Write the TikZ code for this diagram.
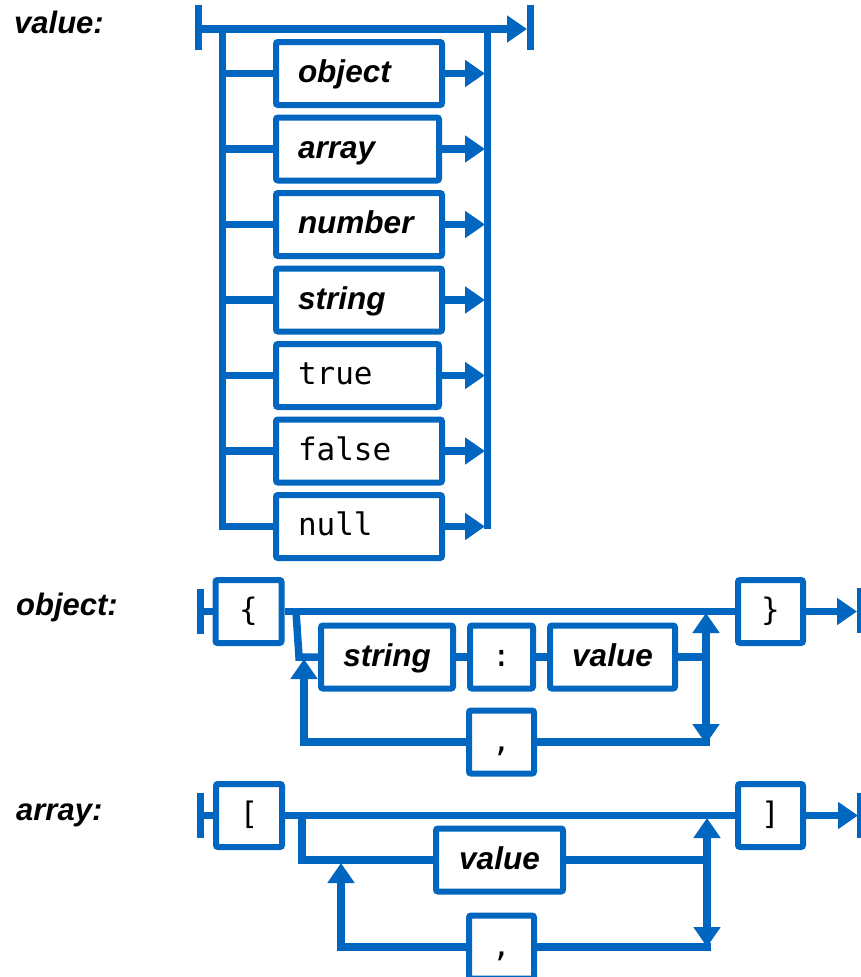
\documentclass[tikz,border=0pt]{standalone}
\usepackage{fontspec}
\setmainfont{Liberation Sans}
\newfontfamily\monof{DejaVu Sans Mono}
\usetikzlibrary{arrows.meta}
\definecolor{jblue}{HTML}{0066C0}
\begin{document}
\begin{tikzpicture}[x=1pt,y=-1pt,
  conn/.style={draw=jblue, line width=7.5pt, line join=miter},
  bar/.style={draw=jblue, line width=7pt},
  arr/.style={conn, -{Triangle[length=20pt,width=26pt]}},
  box/.style={draw=jblue, line width=6pt, rounded corners=2pt, fill=white,
    minimum height=63pt, inner sep=0pt, text height=24pt, text depth=6pt},
  vbox/.style={box, inner xsep=22pt, align=left},
  kw/.style={font=\fontsize{31.5}{31.5}\selectfont\bfseries\itshape},
  lit/.style={font=\fontsize{31}{31}\selectfont\monof},
  lbl/.style={font=\fontsize{31}{31}\selectfont\bfseries\itshape, anchor=base west, inner sep=0pt},
]
\useasboundingbox (0,0) rectangle (861,977);

% ---------------- value ----------------
\node[lbl] (lvalue) at (14,33) {value:};
\coordinate (vs) at (198.5,29);
\coordinate (ve) at (527,29);
\coordinate (vl) at (222.5,29);
\coordinate (vr) at (487.5,29);
\coordinate (vrb) at (487.5,529);
\coordinate (vtip) at (485,29);
\draw[bar] (198.5,5) -- (198.5,50);
\draw[bar] (530,5) -- (530,50);
\draw[arr] (vs) -- (ve);

\node[vbox, kw,  text width=122pt] (vobj) at (359,73.5)   {object};
\node[vbox, kw,  text width=119pt] (varr) at (357.5,149)  {array};
\node[vbox, kw,  text width=122pt] (vnum) at (359,224.5)  {number};
\node[vbox, kw,  text width=122pt] (vstr) at (359,300)    {string};
\node[vbox, lit, text width=119pt] (vtru) at (357.5,375.5){true};
\node[vbox, lit, text width=122pt] (vfal) at (359,451)    {false};
\node[vbox, lit, text width=122pt] (vnul) at (359,526.5)  {null};

\draw[conn] (vl) |- (vnul.west);
\draw[conn] (vr) -- (vrb);
\foreach \n in {vobj,varr,vnum,vstr,vtru,vfal}{
  \draw[conn] (\n.west -| vl) -- (\n.west);
}
\foreach \n in {vobj,varr,vnum,vstr,vtru,vfal,vnul}{
  \draw[arr] (\n.east) -- (\n.east -| vtip);
}

% ---------------- object ----------------
\node[lbl] (lobject) at (16,615) {object:};
\draw[bar] (200,589) -- (200,634);
\node[box, lit, minimum width=66pt] (olb) at (248.5,611.5) {\{};
\node[box, lit, minimum width=65pt] (orb) at (770.5,611.5) {\}};
\coordinate (ostart) at (200,611.5);
\draw[conn] (ostart) -- (olb.west);
\draw[conn] (olb.east) -- (orb.west);
\draw[bar] (860,588) -- (860,633);
\coordinate (oend) at (857,611.5);
\draw[arr] (orb.east) -- (oend);

\node[box, kw,  minimum width=132pt] (ostr) at (387,657)   {string};
\node[box, lit, minimum width=63pt]  (ocol) at (501.5,657) {:};
\node[box, kw,  minimum width=125pt] (oval) at (612.5,657) {value};
\node[box, lit, minimum width=65pt]  (ocom) at (501.5,742) {,};

\coordinate (obr) at (296,611.5);
\coordinate (obrb) at (299,657);
\coordinate (ojoin) at (706,657);
\coordinate (oup) at (706,613);
\coordinate (odn) at (706,744);
\coordinate (obot) at (710,742);
\coordinate (oret) at (304,659);
\draw[conn] (obr) -- (obrb) -- (ostr.west);
\draw[conn] (ostr.east) -- (ocol.west);
\draw[conn] (ocol.east) -- (oval.west);
\draw[conn] (oval.east) -- (ojoin);
\draw[arr] (ojoin) -- (oup);
\draw[arr] (ojoin) -- (odn);
\draw[conn] (obot) -- (ocom.east);
\draw[arr] (ocom.west) -| (oret);

% ---------------- array ----------------
\node[lbl] (larray) at (16,820) {array:};
\draw[bar] (200,793) -- (200,838);
\node[box, lit, minimum width=66pt] (alb) at (249,815.5) {[};
\node[box, lit, minimum width=65pt] (arb) at (770.5,815.5) {]};
\coordinate (astart) at (200,815.5);
\draw[conn] (astart) -- (alb.west);
\draw[conn] (alb.east) -- (arb.west);
\draw[bar] (860.5,793) -- (860.5,838);
\coordinate (aend) at (858,815.5);
\draw[arr] (arb.east) -- (aend);

\node[box, kw,  minimum width=127pt] (aval) at (499.5,860) {value};
\node[box, lit, minimum width=65pt]  (acom) at (501.5,947) {,};

\coordinate (abr) at (302,815.5);
\coordinate (ajoin) at (707,860);
\coordinate (aup) at (707,818);
\coordinate (adn) at (707,947);
\coordinate (abot) at (711,947);
\coordinate (aret) at (341,863);
\draw[conn] (abr) |- (aval.west);
\draw[conn] (aval.east) -- (ajoin);
\draw[arr] (ajoin) -- (aup);
\draw[arr] (ajoin) -- (adn);
\draw[conn] (abot) -- (acom.east);
\draw[arr] (acom.west) -| (aret);
\end{tikzpicture}
\end{document}
